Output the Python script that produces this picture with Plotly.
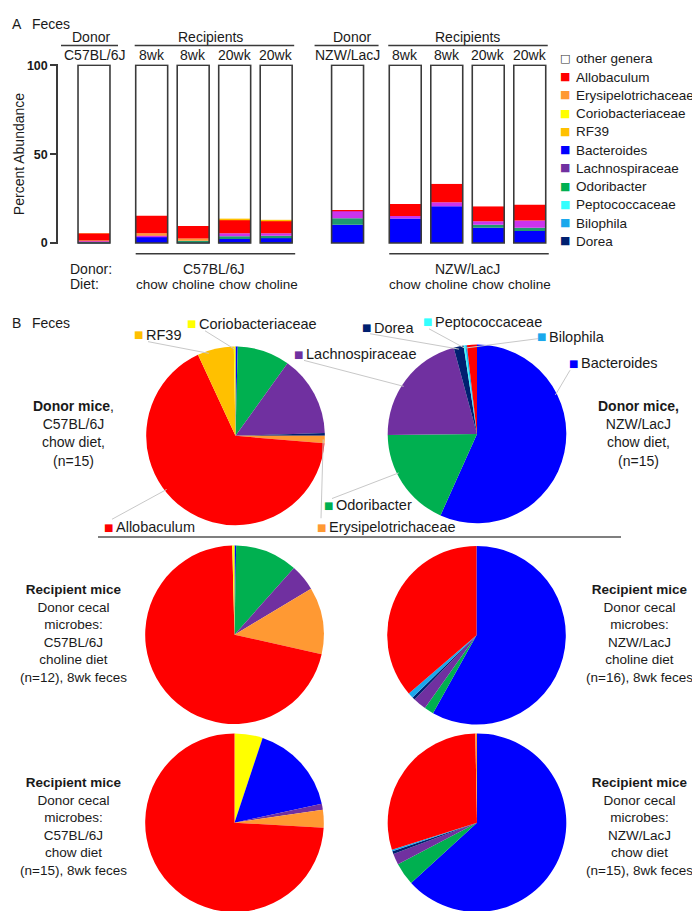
import math
import plotly.graph_objects as go

W, H = 700, 911
FONT = "Liberation Sans, Arial, sans-serif"
TXT = "#1a1a1a"

# ---------------- Panel A data (percent abundance, stacked bars) ----------------
bar_header = ["C57BL/6J", "8wk", "8wk", "20wk", "20wk",
              "NZW/LacJ", "8wk", "8wk", "20wk", "20wk"]
bar_diet = ["", "chow", "choline", "chow", "choline",
            "", "chow", "choline", "chow", "choline"]
dorea_bar = [0.2, 0, 0, 0.5, 0.5, 0, 0, 0, 0, 0]
bacteroides_bar = [0.1, 3.7, 0.3, 1.8, 2.4, 10.2, 13.7, 20.7, 8.5, 6.8]
odoribacter_bar = [0.3, 0, 1.0, 1.5, 1.1, 3.7, 0, 0, 1.7, 1.8]
lachno_bar = [0.8, 0.3, 0, 1.7, 1.5, 4.4, 1.5, 2.2, 2.0, 4.1]
erysipelo_bar = [0.1, 1.5, 1.2, 0, 0, 0, 0, 0, 0, 0]
allobaculum_bar = [4.0, 10.0, 7.0, 7.8, 7.0, 0.3, 6.8, 10.4, 8.5, 9.0]
rf39_bar = [0.1, 0, 0, 0.5, 0.5, 0, 0, 0, 0, 0]

legend_names = ["other genera", "Allobaculum", "Erysipelotrichaceae", "Coriobacteriaceae",
                "RF39", "Bacteroides", "Lachnospiraceae", "Odoribacter",
                "Peptococcaceae", "Bilophila", "Dorea"]

# ---------------- Panel B data (pie charts, clockwise from 12 o'clock) ----------------
pie1_labels = ["Bacteroides", "Odoribacter", "Lachnospiraceae", "Dorea",
               "Erysipelotrichaceae", "Allobaculum", "RF39", "Coriobacteriaceae"]
pie1_values = [0.4, 9.5, 14.6, 0.5, 1.3, 66.8, 6.6, 0.3]

pie2_labels = ["Bacteroides", "Odoribacter", "Lachnospiraceae", "Dorea",
               "Peptococcaceae", "Bilophila", "Allobaculum"]
pie2_values = [56.7, 18.1, 21.0, 1.8, 0.3, 0.3, 1.8]

pie3_labels = ["Bacteroides", "Odoribacter", "Lachnospiraceae",
               "Erysipelotrichaceae", "Allobaculum", "Coriobacteriaceae"]
pie3_values = [0.3, 11.3, 4.8, 12.1, 71.1, 0.4]

pie4_labels = ["Bacteroides", "Odoribacter", "Lachnospiraceae", "Dorea",
               "Bilophila", "Allobaculum"]
pie4_values = [58.1, 1.7, 2.4, 0.5, 1.0, 36.3]

pie5_labels = ["Coriobacteriaceae", "Bacteroides", "Lachnospiraceae",
               "Erysipelotrichaceae", "Allobaculum"]
pie5_values = [5.1, 16.5, 1.1, 3.2, 74.1]

pie6_labels = ["Bacteroides", "Odoribacter", "Lachnospiraceae", "Dorea",
               "Bilophila", "Allobaculum", "Erysipelotrichaceae"]
pie6_values = [63.2, 4.1, 2.0, 0.5, 0.3, 29.6, 0.3]

pie_captions = [
    "<b>Donor mice</b>,<br>C57BL/6J<br>chow diet,<br>(n=15)",
    "<b>Donor mice,</b><br>NZW/LacJ<br>chow diet,<br>(n=15)",
    "<b>Recipient mice</b><br>Donor cecal<br>microbes:<br>C57BL/6J<br>choline diet<br>(n=12), 8wk feces",
    "<b>Recipient mice</b><br>Donor cecal<br>microbes:<br>NZW/LacJ<br>choline diet<br>(n=16), 8wk feces",
    "<b>Recipient mice</b><br>Donor cecal<br>microbes:<br>C57BL/6J<br>chow diet<br>(n=15), 8wk feces",
    "<b>Recipient mice</b><br>Donor cecal<br>microbes:<br>NZW/LacJ<br>chow diet<br>(n=15), 8wk feces",
]

# ---------------- styles ----------------
colors = {
    "other genera": "#FFFFFF",
    "Allobaculum": "#FF0000",
    "Erysipelotrichaceae": "#FF9933",
    "Coriobacteriaceae": "#FFFF00",
    "RF39": "#FFC000",
    "Bacteroides": "#0000FF",
    "Lachnospiraceae": "#7030A0",
    "Odoribacter": "#00B050",
    "Peptococcaceae": "#33FFFF",
    "Bilophila": "#1AA8EC",
    "Dorea": "#002070",
}
bar_colors = dict(colors)
bar_colors["Lachnospiraceae"] = "#CC33EE"
bar_colors["Odoribacter"] = "#1E9A6E"


def xp(px):
    return px / W


def yp(py):
    return 1 - py / H


fig = go.Figure()

# ---------------- Panel A: stacked bars ----------------
pos = []
for g in range(2):
    base = g * 6.11
    pos += [base] + [base + 1.39 + j for j in range(4)]

stack = [("Dorea", dorea_bar), ("Bacteroides", bacteroides_bar),
         ("Odoribacter", odoribacter_bar), ("Lachnospiraceae", lachno_bar),
         ("Erysipelotrichaceae", erysipelo_bar), ("Allobaculum", allobaculum_bar),
         ("RF39", rf39_bar)]
cum = [0.0] * len(pos)
for name, vals in stack:
    fig.add_trace(go.Bar(x=pos, y=vals, base=list(cum), width=0.77, name=name,
                         marker=dict(color=bar_colors[name], line=dict(width=0)),
                         showlegend=False, xaxis="x", yaxis="y"))
    cum = [c + v for c, v in zip(cum, vals)]
other_bar = [100 - c for c in cum]
fig.add_trace(go.Bar(x=pos, y=other_bar, base=list(cum), width=0.77, name="other genera",
                     marker=dict(color="#FFFFFF", line=dict(width=0)),
                     showlegend=False, xaxis="x", yaxis="y"))
totals = [c + o for c, o in zip(cum, other_bar)]
fig.add_trace(go.Bar(x=pos, y=totals, base=[0] * len(pos), width=0.77,
                     marker=dict(color="rgba(0,0,0,0)", line=dict(color="#3a3a3a", width=1.6)),
                     showlegend=False, hoverinfo="skip", xaxis="x", yaxis="y"))

# axis mapping: x units of 41.5 px, pos 0 at px 86
U = 41.5
X0PX = 86
xdom = [50, 545]
xr = [(xdom[0] - X0PX) / U, (xdom[1] - X0PX) / U]


def bx(v):
    return X0PX + v * U


annotations = []
shapes = []


def ann(text, px, py, size=14, xanchor="center", yanchor="middle", color=TXT,
        bold=False, textangle=0, family=FONT):
    annotations.append(dict(
        text=text, x=xp(px), y=yp(py), xref="paper", yref="paper",
        showarrow=False, xanchor=xanchor, yanchor=yanchor, textangle=textangle,
        font=dict(family=family, size=size, color=color,
                  weight=700 if bold else 400),
        align="center"))


def hline(px0, px1, py, color="#3a3a3a", width=1.5):
    shapes.append(dict(type="line", xref="paper", yref="paper",
                       x0=xp(px0), x1=xp(px1), y0=yp(py), y1=yp(py),
                       line=dict(color=color, width=width)))


HS = 14  # header font size

ann("A", 2, 10, size=14, xanchor="left")
ann("Feces", 22, 10, size=14, xanchor="left")

# headers
for g in range(2):
    d = pos[g * 5]
    r0, r1 = pos[g * 5 + 1], pos[g * 5 + 4]
    ann("Donor", bx(d) - 3 if g == 0 else bx(d) + 4, 23, size=HS)
    hline(bx(d) - 33, bx(d) + (24 if g == 0 else 31), 32)
    ann("Recipients", (bx(r0) + bx(r1)) / 2 - (3 if g == 0 else 0), 23, size=HS)
    hline(bx(r0) - 17, bx(r1) + 18, 32)
    hline(bx(r0) - 16, bx(r1) + 19, 243)
    ann(bar_header[g * 5], bx(d), 42, size=HS)
    for j in range(1, 5):
        ann(bar_header[g * 5 + j], bx(pos[g * 5 + j]), 42, size=HS)
        ann(bar_diet[g * 5 + j], bx(pos[g * 5 + j]), 274, size=13.5)
    ann(bar_header[g * 5], (bx(r0) + bx(r1)) / 2, 258, size=HS)

ann("Donor:", 60, 258, size=HS, xanchor="left")
ann("Diet:", 60, 274, size=HS, xanchor="left")
ann("Percent Abundance", 11, 142, size=14, textangle=-90)

# legend (manual)
for i, name in enumerate(legend_names):
    y = 45 + i * 18.5
    glyph = "□" if name == "other genera" else "■"
    col = "#333333" if name == "other genera" else colors[name]
    ann(glyph, 557, y, size=11, color=col, family="DejaVu Sans")
    ann(name, 566, y + 0.5, size=13.5, xanchor="left")

# ---------------- Panel B: pies ----------------
ann("B", 2, 313, size=14, xanchor="left")
ann("Feces", 22, 313, size=14, xanchor="left")
hline(90, 613, 530, color="#555555", width=1.5)

pies = [
    (pie1_labels, pie1_values, 227.5, 427.5),
    (pie2_labels, pie2_values, 469.0, 425.5),
    (pie3_labels, pie3_values, 226.5, 629.0),
    (pie4_labels, pie4_values, 468.5, 629.5),
    (pie5_labels, pie5_values, 226.5, 819.5),
    (pie6_labels, pie6_values, 469.0, 819.5),
]
R = 90.5
for labels, values, cx, cy in pies:
    fig.add_trace(go.Pie(
        labels=labels, values=values, sort=False, direction="clockwise", rotation=0,
        marker=dict(colors=[colors[l] for l in labels], line=dict(width=0)),
        textinfo="none", showlegend=False,
        domain=dict(x=[xp(cx - R), xp(cx + R)], y=[yp(cy + R), yp(cy - R)])))

caption_pos = [(65, 425), (630, 425), (65, 628), (631, 628), (65, 823), (631, 823)]
for cap, (px, py) in zip(pie_captions, caption_pos):
    ann(cap, px, py, size=13.5 if "Recipient" in cap else 14)


def slice_point(labels, values, target, cx, cy, frac=0.5, rr=0.97):
    total = sum(values)
    start = 0.0
    for l, v in zip(labels, values):
        span = v / total * 360
        if l == target:
            a = math.radians(start + frac * span)
            return cx + R * rr * math.sin(a), cy - R * rr * math.cos(a)
        start += span
    return cx, cy


# (pie index, label, square px, text y, line start px, frac along slice)
pie_labels = [
    (0, "RF39", 130, 325, (140, 332), 0.3),
    (0, "Coriobacteriaceae", 183, 314, (197, 321), 0.5),
    (0, "Allobaculum", 100, 520, (104, 512), 0.57),
    (0, "Erysipelotrichaceae", 313, 520, (313, 511), 0.5),
    (1, "Lachnospiraceae", 290, 345, (296, 351), 0.45),
    (1, "Odoribacter", 320, 498, (324, 491), 0.6),
    (1, "Dorea", 358, 318, (362, 324), 0.5),
    (1, "Peptococcaceae", 419, 312, (421, 319), 0.5),
    (1, "Bilophila", 533, 327, (530, 329), 0.5),
    (1, "Bacteroides", 565, 354, (562, 361), 0.31),
]
for pi, name, sqx, ty, (lx, ly), frac in pie_labels:
    labels, values, cx, cy = pies[pi]
    ex, ey = slice_point(labels, values, name, cx, cy, frac)
    shapes.append(dict(type="line", xref="paper", yref="paper",
                       x0=xp(lx), y0=yp(ly), x1=xp(ex), y1=yp(ey),
                       line=dict(color="#C8C8C8", width=1)))
    ann("■", sqx, ty, size=10, color=colors[name], family="DejaVu Sans")
    ann(name, sqx + 6, ty, size=14.5, xanchor="left")

fig.update_layout(
    width=W, height=H, margin=dict(l=0, r=0, t=0, b=0),
    paper_bgcolor="white", plot_bgcolor="white",
    barmode="overlay", showlegend=False,
    xaxis=dict(domain=[xp(xdom[0]), xp(xdom[1])], range=xr, visible=False,
               fixedrange=True),
    yaxis=dict(domain=[yp(233.1), yp(50.9)], range=[-0.6, 100.6],
               tickvals=[0, 50, 100], ticks="outside", ticklen=6, tickwidth=1.5,
               tickcolor="#3a3a3a", showline=True, linecolor="#3a3a3a", linewidth=1.5,
               showgrid=False, zeroline=False, anchor="x",
               tickfont=dict(family=FONT, size=12.5, color=TXT, weight=700)),
    annotations=annotations, shapes=shapes,
)

fig.write_html("out.html")
